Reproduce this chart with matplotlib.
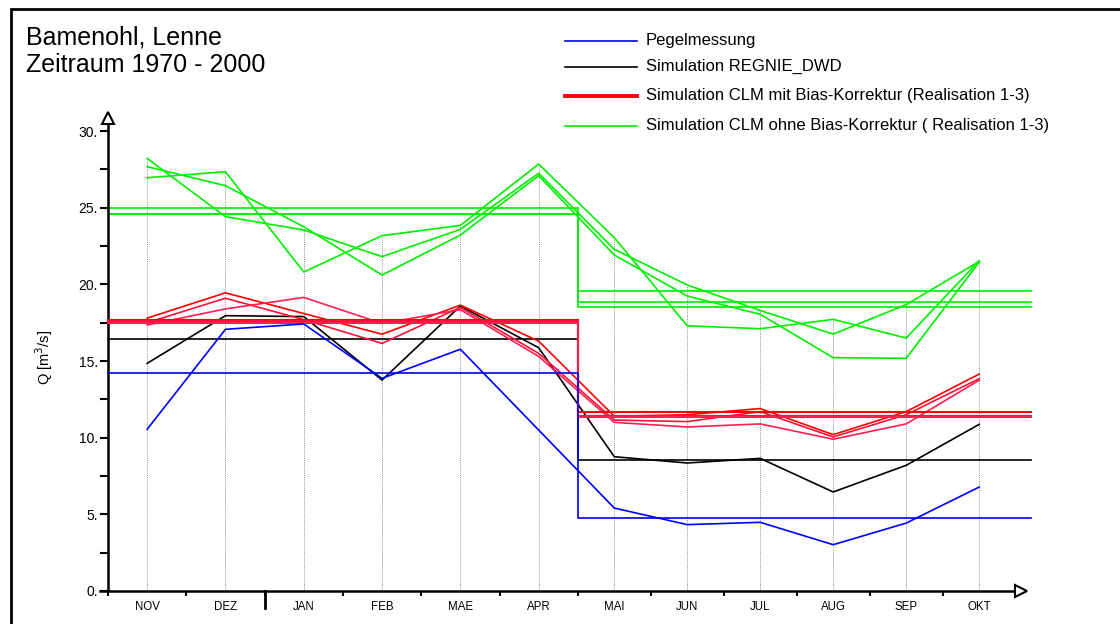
import matplotlib
matplotlib.use('Agg')
import matplotlib.pyplot as plt
import numpy as np
from matplotlib.lines import Line2D
from matplotlib.patches import Rectangle
from matplotlib.ticker import FixedLocator, FuncFormatter, NullFormatter

plt.rcParams['font.family'] = ['Liberation Sans', 'DejaVu Sans']

# ---------------- data ----------------
months = ['NOV', 'DEZ', 'JAN', 'FEB', 'MAE', 'APR', 'MAI', 'JUN', 'JUL', 'AUG', 'SEP', 'OKT']

pegel = [10.55, 17.07, 17.42, 13.87, 15.77, 10.5, 5.41, 4.33, 4.48, 3.02, 4.43, 6.78]
pegel_mean = [14.2, 4.76]

regnie = [14.85, 17.96, 17.9, 13.76, 18.59, 15.87, 8.76, 8.35, 8.65, 6.46, 8.2, 10.87]
regnie_mean = [16.46, 8.52]

clm_mit_1 = [17.8, 19.45, 18.1, 16.75, 18.65, 16.3, 11.4, 11.5, 11.9, 10.2, 11.7, 14.15]
clm_mit_2 = [17.5, 19.1, 17.7, 16.15, 18.5, 15.5, 11.15, 11.05, 11.7, 10.05, 11.5, 13.85]
clm_mit_3 = [17.35, 18.4, 19.15, 17.45, 18.35, 15.3, 11.0, 10.7, 10.9, 9.9, 10.9, 13.75]
clm_mit_mean_1 = [17.7, 11.7]
clm_mit_mean_2 = [17.6, 11.4]
clm_mit_mean_3 = [17.5, 11.35]

clm_ohne_1 = [26.96, 27.35, 20.81, 23.18, 23.85, 27.85, 23.05, 17.3, 17.11, 17.72, 16.5, 21.55]
clm_ohne_2 = [28.22, 24.42, 23.55, 21.81, 23.59, 27.25, 22.29, 19.96, 18.3, 16.76, 18.68, 21.5]
clm_ohne_3 = [27.68, 26.44, 23.76, 20.61, 23.22, 27.09, 21.92, 19.24, 18.05, 15.22, 15.18, 21.45]
clm_ohne_mean_1 = [25.0, 19.57]
clm_ohne_mean_2 = [24.6, 18.87]
clm_ohne_mean_3 = [24.6, 18.54]

y_ticks = [0, 5, 10, 15, 20, 25, 30]

legend_labels = ['Pegelmessung', 'Simulation REGNIE_DWD',
                 'Simulation CLM mit Bias-Korrektur (Realisation 1-3)',
                 'Simulation CLM ohne Bias-Korrektur ( Realisation 1-3)']

# ---------------- layout ----------------
W, H = 1120, 624
fig = plt.figure(figsize=(W / 100, H / 100), dpi=100)

PXU = 78.3          # pixels per winter-month unit
X0 = 108            # pixel of x = 0
YPX = 15.33         # pixels per y unit
Y0 = 591            # pixel of y = 0
ax_left_px, ax_right_px, ax_top_px = 100, 1021, 123

ax = fig.add_axes([ax_left_px / W, 1 - Y0 / H,
                   (ax_right_px - ax_left_px) / W, (Y0 - ax_top_px) / H])
ax.set_xlim((ax_left_px - X0) / PXU, (ax_right_px - X0) / PXU)
ax.set_ylim(0, (Y0 - ax_top_px) / YPX)

widths = np.array([1.0] * 6 + [0.932] * 6)
bounds = np.concatenate([[0], np.cumsum(widths)])
centers = bounds[:-1] + widths / 2
split = bounds[6]
x_end = (1031 - X0) / PXU

# drop lines (dotted) from max value to zero
all_series = np.array([pegel, regnie, clm_mit_1, clm_mit_2, clm_mit_3,
                       clm_ohne_1, clm_ohne_2, clm_ohne_3])
ax.vlines(centers, 0, all_series.max(axis=0), colors='#8a8a8a',
          linestyles=(0, (1, 1.2)), linewidth=0.7, zorder=1)

def step(vals, color, lw, z):
    ax.plot([0, split, split, x_end], [vals[0], vals[0], vals[1], vals[1]],
            color=color, lw=lw, zorder=z, clip_on=False, solid_joinstyle='miter')

green = '#00f000'
reds = ['#ff0000', '#ff1038', '#ff2050']
lw = 1.2

for s in [clm_ohne_1, clm_ohne_2, clm_ohne_3]:
    ax.plot(centers, s, color=green, lw=lw, zorder=2)
for m in [clm_ohne_mean_1, clm_ohne_mean_2, clm_ohne_mean_3]:
    step(m, green, lw, 2)

ax.plot(centers, regnie, color='black', lw=lw, zorder=3)
step(regnie_mean, 'black', lw, 3)

for s, c in zip([clm_mit_1, clm_mit_2, clm_mit_3], reds):
    ax.plot(centers, s, color=c, lw=lw, zorder=4)
for m, c in zip([clm_mit_mean_1, clm_mit_mean_2, clm_mit_mean_3], reds):
    step(m, c, 1.5, 4)

ax.plot(centers, pegel, color='#0000ff', lw=lw, zorder=5)
step(pegel_mean, '#0000ff', lw, 5)

# ---------------- axes styling ----------------
for s in ['top', 'right']:
    ax.spines[s].set_visible(False)
ax.spines['left'].set_position(('data', 0))
ax.spines['left'].set_linewidth(1.8)
ax.spines['bottom'].set_linewidth(1.8)

ax.yaxis.set_major_locator(FixedLocator(y_ticks))
ax.yaxis.set_minor_locator(FixedLocator([v + 2.5 for v in y_ticks[:-1]]))
ax.yaxis.set_major_formatter(FuncFormatter(lambda v, p: f"{int(round(v))}."))
ax.tick_params(axis='y', which='both', direction='out', length=5.8, width=1.5,
               labelsize=10, pad=1.5)

ax.xaxis.set_major_locator(FixedLocator(list(bounds)))
ax.xaxis.set_major_formatter(NullFormatter())
ax.xaxis.set_minor_locator(FixedLocator(list(centers)))
ax.xaxis.set_minor_formatter(FuncFormatter(lambda v, p: months[int(np.argmin(np.abs(centers - v)))]))
ax.tick_params(axis='x', which='major', direction='out', length=3.6, width=1.5)
ax.tick_params(axis='x', which='minor', length=0, labelsize=8.3, pad=7.5)

# long tick at year boundary (Dec/Jan)
ax.plot([bounds[2], bounds[2]], [0, -17 / YPX], color='black', lw=2.0,
        clip_on=False, zorder=6)

# arrow heads
ax.plot([1], [0], marker='>', ms=9, mfc='white', mec='black', mew=1.5,
        transform=ax.transAxes, clip_on=False, zorder=7)
ax.plot([0], [(Y0 - 117.5) / YPX], marker='^', ms=8, mfc='white', mec='black',
        mew=1.5, clip_on=False, zorder=7)

ax.set_ylabel('Q [m$^3$/s]', fontsize=10.5)
ax.yaxis.set_label_coords((55 - ax_left_px) / (ax_right_px - ax_left_px), 0.5)

# ---------------- frame ----------------
fig.add_artist(Rectangle((11 / W, -0.1), 1.2, 1 - 9 / H + 0.1,
                         transform=fig.transFigure, fill=False,
                         edgecolor='black', lw=2.0))

# ---------------- titles ----------------
fig.text(26 / W, 1 - 44.5 / H, 'Bamenohl, Lenne', fontsize=18, va='baseline')
fig.text(26 / W, 1 - 71.5 / H, 'Zeitraum 1970 - 2000', fontsize=18, va='baseline')

# ---------------- legend ----------------
leg_colors = ['#0000ff', 'black', '#ff0000', green]
leg_lw = [1.2, 1.2, 2.8, 1.2]
leg_y = [41, 66.5, 95.5, 126]
for c, l, y, t in zip(leg_colors, leg_lw, leg_y, legend_labels):
    fig.add_artist(Line2D([565 / W, 637 / W], [1 - y / H, 1 - y / H],
                          color=c, lw=l, transform=fig.transFigure))
    fig.text(646 / W, 1 - y / H, t, fontsize=12, va='center')

fig.savefig('out.png', dpi=100)
